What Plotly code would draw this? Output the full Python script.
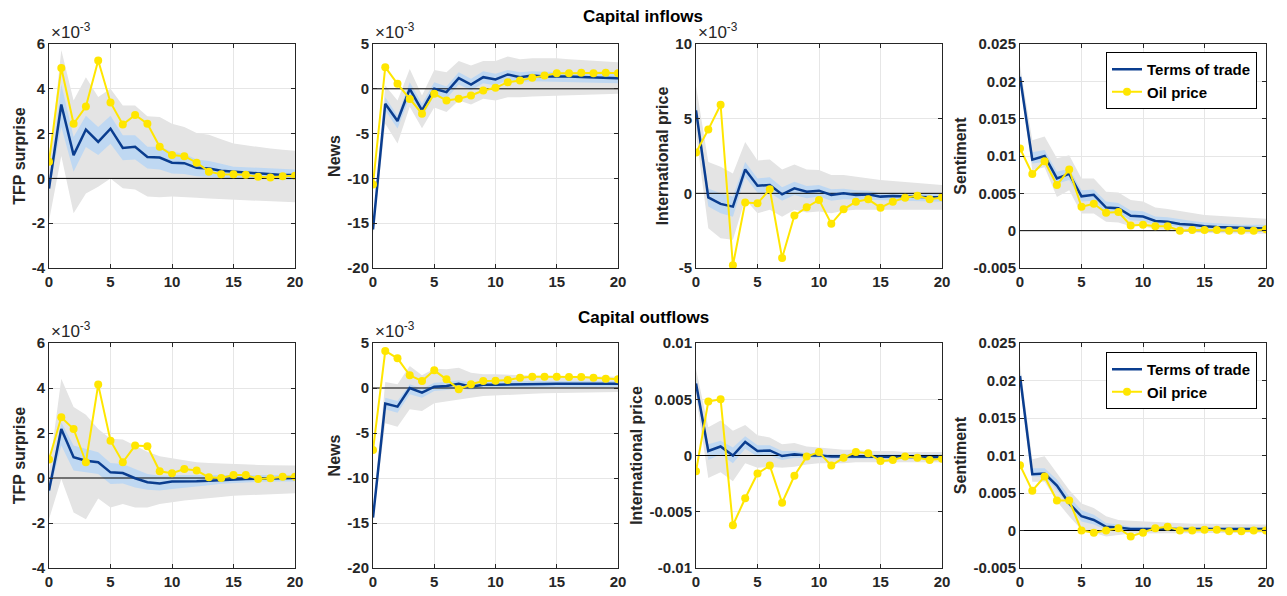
import plotly.graph_objects as go

horizon = list(range(21))

# ---- capital inflows ----
# TFP surprise (x1e-3)
in_tfp_tot = [-0.45, 3.3, 1.04, 2.18, 1.63, 2.22, 1.36, 1.41, 0.96, 0.93, 0.70, 0.68, 0.47, 0.44, 0.34, 0.30, 0.25, 0.21, 0.16, 0.15, 0.15]
in_tfp_oil = [0.74, 4.93, 2.44, 3.21, 5.26, 3.39, 2.41, 2.83, 2.44, 1.41, 1.04, 0.99, 0.70, 0.30, 0.19, 0.19, 0.16, 0.07, 0.04, 0.10, 0.12]
in_tfp_g_hi = [0.5, 5.73, 3.48, 4.52, 3.63, 4.0, 3.26, 3.26, 2.77, 2.74, 2.44, 2.3, 2.03, 1.95, 1.75, 1.56, 1.48, 1.40, 1.33, 1.28, 1.23]
in_tfp_g_lo = [-1.9, 1.0, -1.56, -0.67, -0.37, 0.0, -0.44, -0.49, -0.81, -0.84, -0.81, -0.84, -0.86, -0.9, -0.93, -0.96, -0.99, -1.01, -1.03, -1.05, -1.07]
in_tfp_b_hi = [-0.3, 4.2, 1.85, 2.8, 2.3, 2.8, 1.93, 1.93, 1.41, 1.41, 1.19, 1.1, 0.84, 0.78, 0.65, 0.52, 0.5, 0.47, 0.44, 0.42, 0.4]
in_tfp_b_lo = [-0.6, 2.3, 0.3, 1.4, 1.04, 1.55, 0.81, 0.84, 0.44, 0.40, 0.22, 0.2, 0.1, 0.08, 0.04, 0.0, -0.02, -0.03, -0.05, -0.06, -0.07]

# News (x1e-3)
in_news_tot = [-15.7, -1.67, -3.6, 0.0, -2.4, 0.0, -0.37, 1.19, 0.48, 1.3, 1.04, 1.6, 1.3, 1.48, 1.37, 1.41, 1.37, 1.33, 1.3, 1.26, 1.19]
in_news_oil = [-10.67, 2.41, 0.56, -1.15, -2.78, -0.56, -1.3, -1.11, -0.74, -0.19, 0.11, 0.74, 0.93, 1.22, 1.48, 1.74, 1.74, 1.78, 1.74, 1.78, 1.74]
in_news_g_hi = [-15.2, 0.37, -1.3, 2.2, -0.74, 2.1, 1.85, 3.1, 2.6, 3.1, 3.1, 3.6, 3.3, 3.4, 3.4, 3.4, 3.3, 3.2, 3.1, 3.0, 2.96]
in_news_g_lo = [-16.2, -3.9, -6.1, -2.0, -4.4, -2.1, -2.6, -1.3, -1.74, -1.1, -1.3, -0.93, -0.93, -0.85, -0.8, -0.74, -0.7, -0.66, -0.62, -0.59, -0.56]
in_news_b_hi = [-15.5, -0.93, -3.0, 0.74, -1.67, 0.74, 0.26, 1.85, 1.11, 1.96, 1.67, 2.1, 1.85, 1.96, 1.9, 1.85, 1.85, 1.8, 1.78, 1.76, 1.74]
in_news_b_lo = [-15.9, -2.4, -4.44, -0.93, -3.15, -0.74, -1.11, 0.48, -0.19, 0.63, 0.37, 1.0, 0.74, 0.85, 0.8, 0.78, 0.74, 0.7, 0.67, 0.65, 0.63]

# International price (x1e-3)
in_intl_tot = [5.56, -0.27, -0.71, -0.89, 1.6, 0.51, 0.56, -0.07, 0.33, 0.11, 0.18, -0.11, 0.0, -0.11, -0.07, -0.22, -0.18, -0.22, -0.22, -0.27, -0.27]
in_intl_oil = [2.73, 4.27, 5.93, -4.82, -0.62, -0.67, 0.27, -4.33, -1.49, -0.93, -0.44, -2.04, -1.07, -0.56, -0.4, -0.96, -0.56, -0.29, -0.16, -0.4, -0.27]
in_intl_g_hi = [7.2, 2.1, 1.78, 1.33, 3.44, 2.2, 2.27, 1.6, 1.93, 1.6, 1.56, 1.22, 1.22, 1.1, 1.0, 0.89, 0.82, 0.75, 0.68, 0.62, 0.56]
in_intl_g_lo = [4.0, -2.33, -3.0, -3.1, -0.4, -1.33, -1.1, -1.56, -1.1, -1.29, -1.22, -1.33, -1.16, -1.1, -1.08, -1.07, -1.07, -1.08, -1.09, -1.1, -1.1]
in_intl_b_hi = [6.0, 0.33, 0.0, -0.22, 2.1, 1.0, 1.07, 0.4, 0.78, 0.49, 0.56, 0.27, 0.3, 0.2, 0.18, 0.04, 0.04, 0.02, 0.0, 0.0, 0.0]
in_intl_b_lo = [5.1, -0.89, -1.33, -1.56, 1.1, 0.04, 0.04, -0.49, -0.11, -0.33, -0.22, -0.49, -0.4, -0.45, -0.42, -0.44, -0.46, -0.5, -0.52, -0.54, -0.56]

# Sentiment
in_sent_tot = [0.0206, 0.0095, 0.0100, 0.0070, 0.0076, 0.0046, 0.0048, 0.0031, 0.0030, 0.0020, 0.0019, 0.0013, 0.0012, 0.0009, 0.0008, 0.0006, 0.0005, 0.00045, 0.0004, 0.00035, 0.0003]
in_sent_oil = [0.0110, 0.0076, 0.0093, 0.0061, 0.0082, 0.0032, 0.0036, 0.0024, 0.0025, 0.0007, 0.0008, 0.0006, 0.0006, 0.0, 0.0001, 0.0001, 0.0001, 0.0, 0.0, 0.0, 0.0002]
in_sent_g_hi = [0.0221, 0.0121, 0.0126, 0.0097, 0.0101, 0.0070, 0.0070, 0.0052, 0.0051, 0.0041, 0.0039, 0.0031, 0.0029, 0.0026, 0.0024, 0.0021, 0.0020, 0.0019, 0.0018, 0.0017, 0.0016]
in_sent_g_lo = [0.0199, 0.0081, 0.0085, 0.0045, 0.0054, 0.0023, 0.0023, 0.0012, 0.0011, 0.0006, 0.0006, 0.0002, 0.0001, 0.0, -0.0002, -0.0003, -0.0003, -0.0003, -0.0004, -0.0004, -0.0004]
in_sent_b_hi = [0.0210, 0.0105, 0.0108, 0.0079, 0.0083, 0.0054, 0.0055, 0.0039, 0.0037, 0.0027, 0.0026, 0.0019, 0.0018, 0.0015, 0.0013, 0.0011, 0.0010, 0.0009, 0.0008, 0.0008, 0.0008]
in_sent_b_lo = [0.0202, 0.0090, 0.0092, 0.0063, 0.0068, 0.0039, 0.0040, 0.0024, 0.0023, 0.0014, 0.0013, 0.0008, 0.0007, 0.0005, 0.0004, 0.0002, 0.0002, 0.0001, 0.0, 0.0, -0.0001]

# ---- capital outflows ----
out_tfp_tot = [-0.56, 2.18, 0.92, 0.77, 0.70, 0.25, 0.22, -0.01, -0.19, -0.24, -0.16, -0.16, -0.15, -0.12, -0.09, -0.04, -0.04, -0.03, -0.01, -0.01, 0.0]
out_tfp_oil = [0.82, 2.7, 2.18, 0.70, 4.15, 1.66, 0.70, 1.44, 1.41, 0.30, 0.21, 0.40, 0.33, 0.03, 0.0, 0.13, 0.13, -0.04, -0.01, 0.06, 0.06]
out_tfp_g_hi = [0.25, 4.41, 3.15, 2.81, 2.18, 1.74, 1.71, 1.44, 1.17, 0.97, 0.88, 0.78, 0.70, 0.67, 0.64, 0.62, 0.60, 0.58, 0.57, 0.56, 0.55]
out_tfp_g_lo = [-1.83, -0.04, -1.53, -1.83, -0.91, -1.31, -1.16, -1.31, -1.31, -1.16, -1.08, -1.0, -0.94, -0.9, -0.85, -0.79, -0.76, -0.74, -0.72, -0.70, -0.68]
out_tfp_b_hi = [-0.35, 2.48, 1.44, 1.29, 1.14, 0.67, 0.62, 0.4, 0.18, 0.1, 0.13, 0.13, 0.13, 0.13, 0.13, 0.13, 0.13, 0.13, 0.13, 0.13, 0.13]
out_tfp_b_lo = [-0.72, 1.44, 0.33, 0.25, 0.18, -0.27, -0.24, -0.42, -0.52, -0.56, -0.49, -0.42, -0.37, -0.32, -0.26, -0.22, -0.19, -0.17, -0.16, -0.15, -0.16]

out_news_tot = [-14.4, -1.74, -2.07, 0.0, -0.52, 0.15, 0.22, 0.48, 0.15, 0.37, 0.37, 0.37, 0.41, 0.44, 0.44, 0.48, 0.48, 0.48, 0.48, 0.48, 0.48]
out_news_oil = [-6.9, 4.11, 3.3, 1.41, 0.78, 1.96, 0.96, -0.15, 0.41, 0.78, 0.81, 0.89, 1.15, 1.26, 1.26, 1.26, 1.22, 1.22, 1.15, 1.04, 0.96]
out_news_g_hi = [-14.0, 0.67, 0.41, 2.44, 1.41, 2.15, 2.07, 2.26, 1.7, 1.52, 1.52, 1.45, 1.41, 1.38, 1.35, 1.33, 1.31, 1.3, 1.28, 1.27, 1.26]
out_news_g_lo = [-14.8, -3.93, -4.3, -2.37, -2.56, -1.7, -1.44, -1.26, -1.07, -0.89, -0.81, -0.75, -0.7, -0.65, -0.58, -0.52, -0.5, -0.48, -0.46, -0.45, -0.44]
out_news_b_hi = [-14.2, -1.07, -1.44, 0.41, -0.07, 0.59, 0.67, 0.85, 0.59, 0.67, 0.74, 0.74, 0.78, 0.78, 0.78, 0.78, 0.78, 0.78, 0.78, 0.78, 0.78]
out_news_b_lo = [-14.6, -2.37, -2.74, -0.7, -1.07, -0.33, -0.22, 0.0, -0.22, 0.04, 0.04, 0.07, 0.07, 0.1, 0.1, 0.11, 0.13, 0.14, 0.15, 0.15, 0.15]

out_intl_tot = [0.0064, 0.0004, 0.0008, 0.0, 0.0012, 0.0004, 0.00045, -0.00005, 0.0001, 0.0, 0.00003, -0.0001, -0.0001, -0.0001, -0.0001, -0.00015, -0.00015, -0.00015, -0.00015, -0.00015, -0.00015]
out_intl_oil = [-0.0014, 0.0048, 0.0050, -0.0062, -0.0038, -0.0016, -0.0009, -0.0042, -0.0018, -0.0001, 0.0003, -0.0009, -0.0002, 0.0003, 0.0002, -0.0005, -0.0004, -0.0001, -0.0002, -0.0004, -0.0003]
out_intl_g_hi = [0.0077, 0.0025, 0.0031, 0.0022, 0.0027, 0.0018, 0.0016, 0.0010, 0.0011, 0.0008, 0.0007, 0.0006, 0.0005, 0.0005, 0.0004, 0.0004, 0.0004, 0.0003, 0.0003, 0.0003, 0.0003]
out_intl_g_lo = [0.0053, -0.0020, -0.0015, -0.0023, -0.0007, -0.0011, -0.0010, -0.0011, -0.0010, -0.0008, -0.0007, -0.0007, -0.0007, -0.0006, -0.0006, -0.0006, -0.0006, -0.0006, -0.0006, -0.0006, -0.0006]
out_intl_b_hi = [0.0069, 0.0010, 0.0013, 0.0007, 0.0017, 0.0009, 0.0009, 0.0004, 0.0004, 0.0002, 0.0002, 0.0001, 0.0001, 0.0001, 0.0001, 0.0001, 0.0001, 0.0001, 0.0001, 0.0001, 0.0001]
out_intl_b_lo = [0.0059, -0.0004, 0.0001, -0.0007, 0.0006, -0.0001, 0.0, -0.0004, -0.0002, -0.0002, -0.0002, -0.0003, -0.0003, -0.0003, -0.0003, -0.0003, -0.0003, -0.0003, -0.0003, -0.0003, -0.0003]

out_sent_tot = [0.0206, 0.0075, 0.0076, 0.0060, 0.0036, 0.0019, 0.0014, 0.0005, 0.0004, 0.0002, 0.0002, 0.0002, 0.0002, 0.0002, 0.0002, 0.0002, 0.0002, 0.0002, 0.0002, 0.0002, 0.0002]
out_sent_oil = [0.0087, 0.0053, 0.0072, 0.0040, 0.0040, 0.0, -0.0003, 0.0, 0.0003, -0.0008, -0.0003, 0.0003, 0.0005, 0.0, 0.0, 0.0001, 0.0001, -0.0001, -0.0001, 0.0, 0.0]
out_sent_g_hi = [0.0221, 0.0095, 0.0099, 0.0076, 0.0054, 0.0036, 0.0030, 0.0019, 0.0014, 0.0013, 0.0012, 0.0011, 0.0010, 0.0010, 0.0009, 0.0009, 0.0009, 0.0008, 0.0008, 0.0008, 0.0008]
out_sent_g_lo = [0.0196, 0.0065, 0.0065, 0.0039, 0.0019, 0.0001, -0.0003, -0.0008, -0.0006, -0.0004, -0.0004, -0.0003, -0.0003, -0.0003, -0.0003, -0.0003, -0.0003, -0.0003, -0.0003, -0.0003, -0.0003]
out_sent_b_hi = [0.0210, 0.0083, 0.0083, 0.0068, 0.0045, 0.0027, 0.0021, 0.0010, 0.0008, 0.0005, 0.0005, 0.0004, 0.0004, 0.0004, 0.0004, 0.0004, 0.0004, 0.0004, 0.0004, 0.0004, 0.0004]
out_sent_b_lo = [0.0202, 0.0072, 0.0072, 0.0054, 0.0032, 0.0012, 0.0008, 0.0001, 0.0, -0.0001, -0.0001, -0.0001, 0.0, 0.0, 0.0, 0.0, 0.0, 0.0, 0.0, 0.0, 0.0]

# tick labels
x_ticks = [0, 5, 10, 15, 20]
tfp_ticks = [-4, -2, 0, 2, 4, 6]
news_ticks = [-20, -15, -10, -5, 0, 5]
intl_in_ticks = [-5, 0, 5, 10]
intl_out_ticks = [-0.01, -0.005, 0, 0.005, 0.01]
intl_out_labels = ['-0.01', '-0.005', '0', '0.005', '0.01']
sent_ticks = [-0.005, 0, 0.005, 0.01, 0.015, 0.02, 0.025]
sent_labels = ['-0.005', '0', '0.005', '0.01', '0.015', '0.02', '0.025']

TOT = '#0a3d8f'
OIL = '#ffe600'
GRAY = '#e4e4e4'
LBLUE = '#bfd8f2'
FONT = 'Liberation Sans, Arial'
TXT = '#262626'

# (tot, oil, g_lo, g_hi, b_lo, b_hi, ytitle, tickvals, ticktext, scaled, legend)
panels = [
    (in_tfp_tot, in_tfp_oil, in_tfp_g_lo, in_tfp_g_hi, in_tfp_b_lo, in_tfp_b_hi, 'TFP surprise', tfp_ticks, [str(v) for v in tfp_ticks], True, None),
    (in_news_tot, in_news_oil, in_news_g_lo, in_news_g_hi, in_news_b_lo, in_news_b_hi, 'News', news_ticks, [str(v) for v in news_ticks], True, None),
    (in_intl_tot, in_intl_oil, in_intl_g_lo, in_intl_g_hi, in_intl_b_lo, in_intl_b_hi, 'International price', intl_in_ticks, [str(v) for v in intl_in_ticks], True, None),
    (in_sent_tot, in_sent_oil, in_sent_g_lo, in_sent_g_hi, in_sent_b_lo, in_sent_b_hi, 'Sentiment', sent_ticks, sent_labels, False, 'legend'),
    (out_tfp_tot, out_tfp_oil, out_tfp_g_lo, out_tfp_g_hi, out_tfp_b_lo, out_tfp_b_hi, 'TFP surprise', tfp_ticks, [str(v) for v in tfp_ticks], True, None),
    (out_news_tot, out_news_oil, out_news_g_lo, out_news_g_hi, out_news_b_lo, out_news_b_hi, 'News', news_ticks, [str(v) for v in news_ticks], True, None),
    (out_intl_tot, out_intl_oil, out_intl_g_lo, out_intl_g_hi, out_intl_b_lo, out_intl_b_hi, 'International price', intl_out_ticks, intl_out_labels, False, None),
    (out_sent_tot, out_sent_oil, out_sent_g_lo, out_sent_g_hi, out_sent_b_lo, out_sent_b_hi, 'Sentiment', sent_ticks, sent_labels, False, 'legend2'),
]

# page body margin is removed below, so the figure fills the whole window
W, H = 1287, 596
x_doms = [(49, 295), (373, 618), (696, 942), (1020, 1266)]
y_doms = [(44, 268), (343, 568)]


def px_x(p):
    return p / W


def px_y(p):
    return 1 - p / H


fig = go.Figure()
layout = {}
annotations = []
for i, (tot, oil, glo, ghi, blo, bhi, ytitle, tv, tt, scaled, leg) in enumerate(panels):
    n = i + 1
    xa = 'x' if n == 1 else 'x%d' % n
    ya = 'y' if n == 1 else 'y%d' % n
    row, col = divmod(i, 4)
    x0, x1 = x_doms[col]
    y0, y1 = y_doms[row]
    xd = [px_x(x0), px_x(x1)]
    yd = [px_y(y1), px_y(y0)]

    fig.add_trace(go.Scatter(x=horizon + horizon[::-1], y=ghi + glo[::-1], fill='toself',
                             fillcolor=GRAY, line=dict(width=0), mode='lines',
                             showlegend=False, hoverinfo='skip', xaxis=xa, yaxis=ya))
    fig.add_trace(go.Scatter(x=horizon + horizon[::-1], y=bhi + blo[::-1], fill='toself',
                             fillcolor=LBLUE, line=dict(width=0), mode='lines',
                             showlegend=False, hoverinfo='skip', xaxis=xa, yaxis=ya))
    fig.add_trace(go.Scatter(x=[0, 20], y=[0, 0], mode='lines', line=dict(color='black', width=1),
                             showlegend=False, hoverinfo='skip', xaxis=xa, yaxis=ya))
    fig.add_trace(go.Scatter(x=horizon, y=tot, mode='lines', name='<b>Terms of trade</b>',
                             line=dict(color=TOT, width=2.5),
                             showlegend=leg is not None, legend=leg or 'legend',
                             xaxis=xa, yaxis=ya))
    fig.add_trace(go.Scatter(x=horizon, y=oil, mode='lines+markers', name='<b>Oil price</b>',
                             line=dict(color=OIL, width=2), marker=dict(color=OIL, size=8),
                             showlegend=leg is not None, legend=leg or 'legend',
                             xaxis=xa, yaxis=ya))

    common = dict(showline=True, mirror='ticks', linecolor=TXT, linewidth=1,
                  ticks='inside', ticklen=4, tickcolor=TXT, automargin=False,
                  showgrid=True, gridcolor='#e6e6e6', gridwidth=1, zeroline=False,
                  tickfont=dict(family=FONT, size=15, color=TXT, weight='bold'))
    layout['xaxis' if n == 1 else 'xaxis%d' % n] = dict(
        domain=xd, anchor=ya, range=[0, 20], tickvals=x_ticks, **common)
    layout['yaxis' if n == 1 else 'yaxis%d' % n] = dict(
        domain=yd, anchor=xa, range=[tv[0], tv[-1]], tickvals=tv, ticktext=tt,
        title=dict(text='<b>%s</b>' % ytitle, font=dict(family=FONT, size=16, color=TXT), standoff=2),
        **common)
    if scaled:
        annotations.append(dict(xref='paper', yref='paper', x=xd[0], y=yd[1], xanchor='left',
                                yanchor='bottom', showarrow=False, yshift=0,
                                text='×10<sup>-3</sup>',
                                font=dict(family=FONT, size=17, color=TXT)))

annotations.append(dict(xref='paper', yref='paper', x=px_x(643), y=px_y(17), showarrow=False,
                        xanchor='center', yanchor='middle',
                        text='<b>Capital inflows</b>', font=dict(family=FONT, size=17, color='black')))
annotations.append(dict(xref='paper', yref='paper', x=px_x(643), y=px_y(317), showarrow=False,
                        xanchor='center', yanchor='middle',
                        text='<b>Capital outflows</b>', font=dict(family=FONT, size=17, color='black')))

legend_style = dict(xanchor='right', yanchor='top', bgcolor='white', bordercolor='black',
                    borderwidth=1, font=dict(family=FONT, size=15, color='black'),
                    tracegroupgap=0, itemwidth=30)
fig.update_layout(
    width=W, height=H,
    margin=dict(l=0, r=0, t=0, b=0, autoexpand=False),
    paper_bgcolor='white', plot_bgcolor='white',
    annotations=annotations,
    legend=dict(x=px_x(1257), y=px_y(52), **legend_style),
    legend2=dict(x=px_x(1257), y=px_y(352), **legend_style),
    **layout,
)

fig.write_html("out.html", config={'displayModeBar': False},
               post_script="document.body.style.margin='0';")
